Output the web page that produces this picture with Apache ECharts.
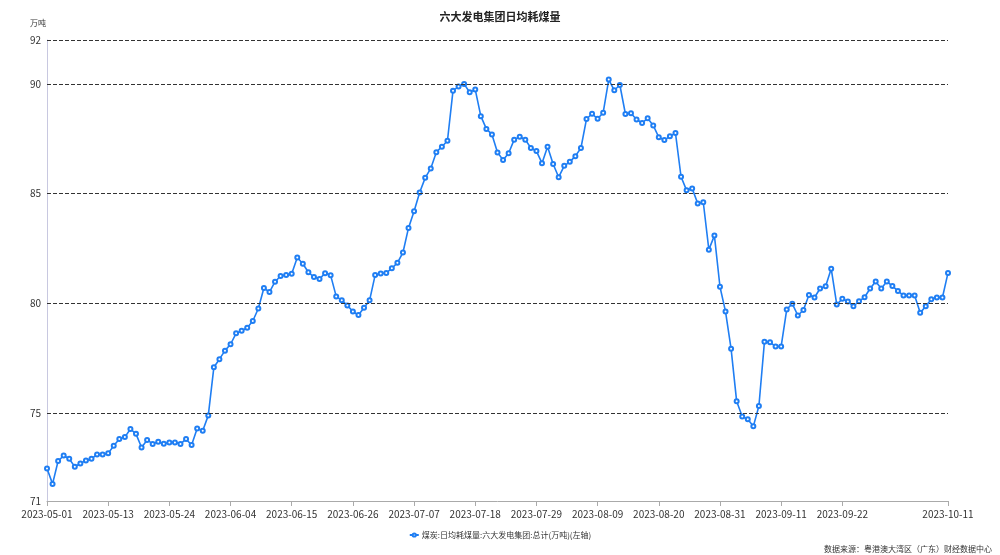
<!DOCTYPE html>
<html>
<head>
<meta charset="utf-8">
<script src="https://cdn.jsdelivr.net/npm/echarts@6/dist/echarts.min.js"></script>
<style>
  html, body { margin: 0; padding: 0; background: #fff; }
  #chart { width: 1000px; height: 555px; }
</style>
</head>
<body>
<div id="chart"></div>
<script>
// daily dates 2023-05-01 .. 2023-10-11, one day missing in early May
const startDate = "2023-05-01";
const endDate = "2023-10-11";
const missingDates = ["2023-05-06"];

const coalValues = [
  72.48, 71.78, 72.82, 73.07, 72.92, 72.56, 72.71, 72.85, 72.92, 73.12,
  73.12, 73.17, 73.52, 73.82, 73.91, 74.28, 74.06, 73.44, 73.78, 73.60,
  73.70, 73.61, 73.67, 73.67, 73.60, 73.82, 73.55, 74.30, 74.20, 74.90,
  77.09, 77.46, 77.85, 78.14, 78.64, 78.75, 78.89, 79.20, 79.77, 80.70,
  80.52, 80.99, 81.25, 81.29, 81.35, 82.09, 81.81, 81.42, 81.20, 81.11,
  81.38, 81.28, 80.32, 80.14, 79.91, 79.63, 79.47, 79.80, 80.14, 81.29,
  81.36, 81.39, 81.60, 81.85, 82.32, 83.44, 84.20, 85.05, 85.72, 86.15,
  86.89, 87.14, 87.41, 89.69, 89.88, 89.99, 89.62, 89.74, 88.53, 87.95,
  87.70, 86.88, 86.53, 86.84, 87.46, 87.59, 87.46, 87.08, 86.94, 86.39,
  87.14, 86.35, 85.75, 86.27, 86.45, 86.71, 87.08, 88.40, 88.64, 88.41,
  88.69, 90.20, 89.71, 89.95, 88.63, 88.66, 88.38, 88.22, 88.43, 88.11,
  87.57, 87.44, 87.61, 87.76, 85.77, 85.15, 85.24, 84.55, 84.61, 82.45,
  83.09, 80.76, 79.63, 77.93, 75.54, 74.85, 74.72, 74.40, 75.33, 78.26,
  78.23, 78.04, 78.04, 79.72, 79.99, 79.45, 79.70, 80.38, 80.27, 80.68,
  80.78, 81.58, 79.95, 80.21, 80.09, 79.87, 80.10, 80.28, 80.68, 81.00,
  80.68, 81.00, 80.79, 80.57, 80.36, 80.36, 80.36, 79.57, 79.87, 80.19,
  80.27, 80.27, 81.39
];

const yTickLabels = [71, 75, 80, 85, 90, 92];
const dashedLevels = [75, 80, 85, 90, 92];
const seriesName = "煤炭:日均耗煤量:六大发电集团:总计(万吨)(左轴)";

function buildDates() {
  let list = [];
  let d = new Date(startDate + "T00:00:00Z");
  const end = new Date(endDate + "T00:00:00Z");
  while (d <= end) {
    const s = d.toISOString().slice(0, 10);
    if (missingDates.indexOf(s) < 0) list.push(s);
    d = new Date(d.getTime() + 86400000);
  }
  return list;
}
const dates = buildDates();
const lastIdx = dates.length - 1;

function showLabel(index) {
  return (index % 11 === 0 && index <= lastIdx - 19) || index === lastIdx;
}

const font = "'Noto Sans CJK SC', 'Noto Sans', sans-serif";
const chart = echarts.init(document.getElementById("chart"));
chart.setOption({
  animation: false,
  textStyle: { fontFamily: font },
  title: {
    text: "六大发电集团日均耗煤量",
    left: "center",
    top: 6,
    textStyle: { fontSize: 11, fontWeight: "bold", color: "#222", fontFamily: font },
  },
  grid: { left: 47, right: 52, top: 40, bottom: 54 },
  legend: {
    bottom: 11,
    left: "center",
    itemWidth: 9,
    itemHeight: 4,
    itemGap: 4,
    textStyle: { fontSize: 8, color: "#333", padding: [0, 0, 0, -2] },
    data: [seriesName],
  },
  graphic: [
    {
      type: "text",
      right: 8,
      bottom: 2,
      style: { text: "数据来源：粤港澳大湾区（广东）财经数据中心", fontSize: 8, fill: "#333", fontFamily: font },
    },
    {
      type: "text",
      left: 30,
      top: 19,
      style: { text: "万吨", fontSize: 8, fill: "#333", fontFamily: font },
    },
  ],
  xAxis: {
    type: "category",
    data: dates,
    boundaryGap: false,
    axisLine: { lineStyle: { color: "#aaa" } },
    axisTick: { interval: showLabel, lineStyle: { color: "#aaa" } },
    axisLabel: { interval: showLabel, color: "#333", fontSize: 10, margin: 8 },
  },
  yAxis: {
    type: "value",
    min: 71,
    max: 92,
    interval: 1,
    axisLine: { show: true, lineStyle: { color: "#c8c8e0" } },
    axisTick: { show: false },
    splitLine: { show: false },
    axisLabel: {
      color: "#333",
      fontSize: 10,
      margin: 6,
      formatter: function (v) {
        return yTickLabels.indexOf(v) >= 0 ? String(v) : "";
      },
    },
  },
  series: [
    {
      name: seriesName,
      type: "line",
      data: coalValues,
      symbol: "emptyCircle",
      symbolSize: 4,
      showAllSymbol: true,
      lineStyle: { color: "#1f7ef3", width: 1.6 },
      itemStyle: { color: "#1f7ef3", borderWidth: 1.2 },
      markLine: {
        silent: true,
        symbol: "none",
        label: { show: false },
        lineStyle: { type: [4, 2], color: "#333", width: 1 },
        data: dashedLevels.map(function (v) { return { yAxis: v }; }),
      },
    },
  ],
});
window.addEventListener("resize", function () { chart.resize(); });
</script>
</body>
</html>
